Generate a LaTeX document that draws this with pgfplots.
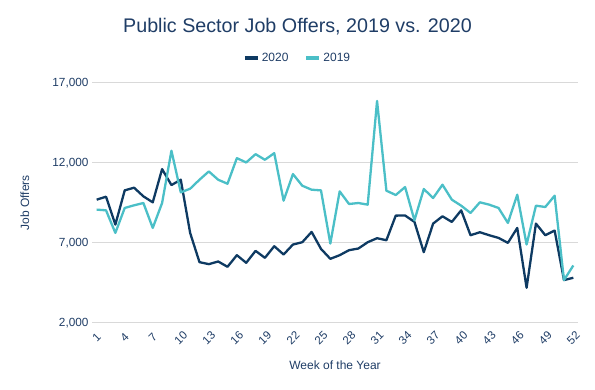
\documentclass[border=0pt]{standalone}
\usepackage{pgfplots}
\pgfplotsset{compat=1.18}
\usepackage{fontspec}
\setmainfont{Liberation Sans}
\definecolor{navy}{HTML}{0E3A62}
\definecolor{tealc}{HTML}{4BBFC7}
\definecolor{txt}{HTML}{1F3D66}
\definecolor{gridc}{HTML}{D9D9D9}
\begin{document}
\begin{tikzpicture}
\useasboundingbox (0,0) rectangle (595bp,390bp);
\begin{axis}[
  at={(92bp,67.3bp)}, anchor=south west,
  scale only axis, width=486bp, height=240bp,
  xmin=0.5, xmax=52.5, ymin=2000, ymax=17000,
  xtick={1,4,...,52}, ytick={2000,7000,12000,17000},
  scaled y ticks=false,
  ymajorgrids, xmajorgrids=false,
  major grid style={draw=gridc, line width=0.9bp},
  axis line style={draw=none},
  tick style={draw=none},
  /pgf/number format/assume math mode=true,
  /pgf/number format/1000 sep={,},
  yticklabel style={font=\fontsize{11.8bp}{14bp}\selectfont, text=txt},
  xticklabel style={font=\fontsize{11.5bp}{13bp}\selectfont, text=txt, yshift=-15bp, anchor=center, inner sep=0pt, rotate=45},
  xlabel={Week of the Year},
  ylabel={Job Offers},
  label style={font=\fontsize{12bp}{14bp}\selectfont, text=txt},
  xlabel style={at={(axis description cs:0.5,-0.176)}, anchor=center},
  ylabel style={at={(axis description cs:-0.138,0.5)}, anchor=center, rotate=0},
  title={Public Sector Job Offers, 2019 vs. 2020},
  title style={font=\fontsize{19.7bp}{24bp}\selectfont, text=txt, at={(axis description cs:0.4228,1.207)}, anchor=center},
  legend columns=2,
  legend style={draw=none, fill=none, font=\fontsize{12bp}{14bp}\selectfont, text=txt,
    at={(axis description cs:0.4228,1.104)}, anchor=center,
    /tikz/every even column/.append style={column sep=14bp}},
  legend image code/.code={\draw[line width=4bp,#1] (0bp,0bp) -- (13bp,0bp);},
]
\addplot[navy, line width=2.3bp, line join=round] coordinates {
(1,9689) (2,9876) (3,8131) (4,10270) (5,10437) (6,9897) (7,9523) (8,11600) (9,10603) (10,10935)
(11,7612) (12,5784) (13,5660) (14,5826) (15,5494) (16,6220) (17,5743) (18,6490) (19,6054) (20,6781)
(21,6262) (22,6885) (23,7030) (24,7674) (25,6615) (26,5992) (27,6220) (28,6532) (29,6636) (30,7030)
(31,7280) (32,7155) (33,8692) (34,8700) (35,8300) (36,6407) (37,8194) (38,8651) (39,8298) (40,9024)
(41,7467) (42,7653) (43,7467) (44,7300) (45,6989) (46,7923) (47,4185) (48,8194) (49,7467) (50,7757)
(51,4663) (52,4808)
};
\addlegendentry{2020}
\addplot[tealc, line width=2.3bp, line join=round] coordinates {
(1,9066) (2,9024) (3,7612) (4,9170) (5,9336) (6,9481) (7,7923) (8,9481) (9,12750) (10,10146)
(11,10374) (12,10935) (13,11454) (14,10935) (15,10686) (16,12285) (17,12015) (18,12534) (19,12182) (20,12596)
(21,9627) (22,11288) (23,10561) (24,10312) (25,10270) (26,6947) (27,10208) (28,9419) (29,9481) (30,9377)
(31,15858) (32,10250) (33,9980) (34,10478) (35,8400) (36,10354) (37,9793) (38,10624) (39,9689) (40,9315)
(41,8858) (42,9523) (43,9377) (44,9170) (45,8235) (46,10000) (47,6885) (48,9315) (49,9232) (50,9938)
(51,4663) (52,5577)
};
\addlegendentry{2019}
\end{axis}
\end{tikzpicture}
\end{document}
